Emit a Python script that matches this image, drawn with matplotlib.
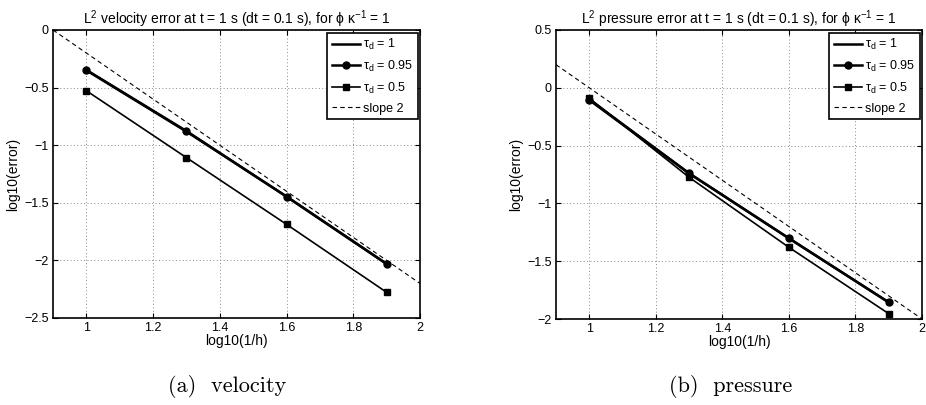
import matplotlib
matplotlib.use("Agg")
import matplotlib.pyplot as plt
import numpy as np

plt.rcParams['font.family'] = ['Liberation Sans', 'DejaVu Sans']
plt.rcParams['mathtext.fontset'] = 'custom'
plt.rcParams['mathtext.rm'] = 'Liberation Sans'
plt.rcParams['mathtext.it'] = 'Liberation Sans:italic'

# ---- data ----
log_inv_h = [1.0, 1.3, 1.6, 1.9]

vel_tau1 = [-0.35, -0.882, -1.445, -2.03]
vel_tau095 = [-0.347, -0.877, -1.447, -2.031]
vel_tau05 = [-0.527, -1.108, -1.687, -2.277]
vel_slope_x = [0.9, 2.0]
vel_slope_y = [0.0, -2.2]

pre_tau1 = [-0.10, -0.74, -1.302, -1.856]
pre_tau095 = [-0.106, -0.74, -1.302, -1.856]
pre_tau05 = [-0.09, -0.774, -1.38, -1.954]
pre_slope_x = [0.9, 2.0]
pre_slope_y = [0.2, -2.0]

legend_labels = ['τ$_\\mathregular{d}$ = 1', 'τ$_\\mathregular{d}$ = 0.95',
                 'τ$_\\mathregular{d}$ = 0.5', 'slope 2']
x_ticks = [1, 1.2, 1.4, 1.6, 1.8, 2]
x_ticklabels = ['1', '1.2', '1.4', '1.6', '1.8', '2']
vel_yticks = [-2.5, -2, -1.5, -1, -0.5, 0]
vel_yticklabels = ['\u22122.5', '\u22122', '\u22121.5', '\u22121', '\u22120.5', '0']
pre_yticks = [-2, -1.5, -1, -0.5, 0, 0.5]
pre_yticklabels = ['\u22122', '\u22121.5', '\u22121', '\u22120.5', '0', '0.5']

vel_title = 'L$^\\mathregular{2}$ velocity error at t = 1 s (dt = 0.1 s), for ϕ κ$^\\mathregular{-1}$ = 1'
pre_title = 'L$^\\mathregular{2}$ pressure error at t = 1 s (dt = 0.1 s), for ϕ κ$^\\mathregular{-1}$ = 1'

W, H = 926, 405
fig = plt.figure(figsize=(W / 100, H / 100), dpi=100)

def px_axes(l, t, r, b):
    return fig.add_axes([l / W, 1 - b / H, (r - l) / W, (b - t) / H])

ax1 = px_axes(53, 30, 420, 318)
ax2 = px_axes(556, 30, 922, 319)

def style(ax, t1, t095, t05, sx, sy, yticks, yticklabels, title):
    ax.plot(log_inv_h, t1, '-', color='black', lw=1.8, label=legend_labels[0])
    ax.plot(log_inv_h, t095, '-', color='black', lw=1.8, marker='o', ms=5,
            label=legend_labels[1])
    ax.plot(log_inv_h, t05, '-', color='black', lw=1.2, marker='s', ms=4,
            label=legend_labels[2])
    ax.plot(sx, sy, '--', color='black', lw=0.8, dashes=(4, 3), label=legend_labels[3])
    ax.set_xlim(0.9, 2.0)
    ax.set_ylim(yticks[0], yticks[-1])
    ax.set_xticks(x_ticks)
    ax.set_xticklabels(x_ticklabels)
    ax.set_yticks(yticks)
    ax.set_yticklabels(yticklabels)
    ax.tick_params(direction='in', top=True, right=True, length=3.5, width=0.8,
                   labelsize=9, pad=3)
    ax.grid(True, linestyle=(0, (1, 2.5)), color='#888888', linewidth=0.7)
    for s in ax.spines.values():
        s.set_linewidth(1.2)
    ax.set_xlabel('log10(1/h)', fontsize=10, labelpad=0)
    ax.set_ylabel('log10(error)', fontsize=10, labelpad=3)
    ax.set_title(title, fontsize=10, pad=4)
    leg = ax.legend(loc='upper right', fontsize=9, handlelength=2.3,
                    handletextpad=0.2, borderpad=0.35, labelspacing=0.55,
                    borderaxespad=0.2, fancybox=False, framealpha=1)
    leg.get_frame().set_edgecolor('black')
    leg.get_frame().set_linewidth(1.2)

style(ax1, vel_tau1, vel_tau095, vel_tau05, vel_slope_x, vel_slope_y,
      vel_yticks, vel_yticklabels, vel_title)
style(ax2, pre_tau1, pre_tau095, pre_tau05, pre_slope_x, pre_slope_y,
      pre_yticks, pre_yticklabels, pre_title)

fig.text(227 / W, 1 - 387 / H, '(a)  velocity', family='cmr10', fontsize=16,
         ha='center', va='center')
fig.text(731 / W, 1 - 387 / H, '(b)  pressure', family='cmr10', fontsize=16,
         ha='center', va='center')

fig.savefig('out.png', dpi=100)
